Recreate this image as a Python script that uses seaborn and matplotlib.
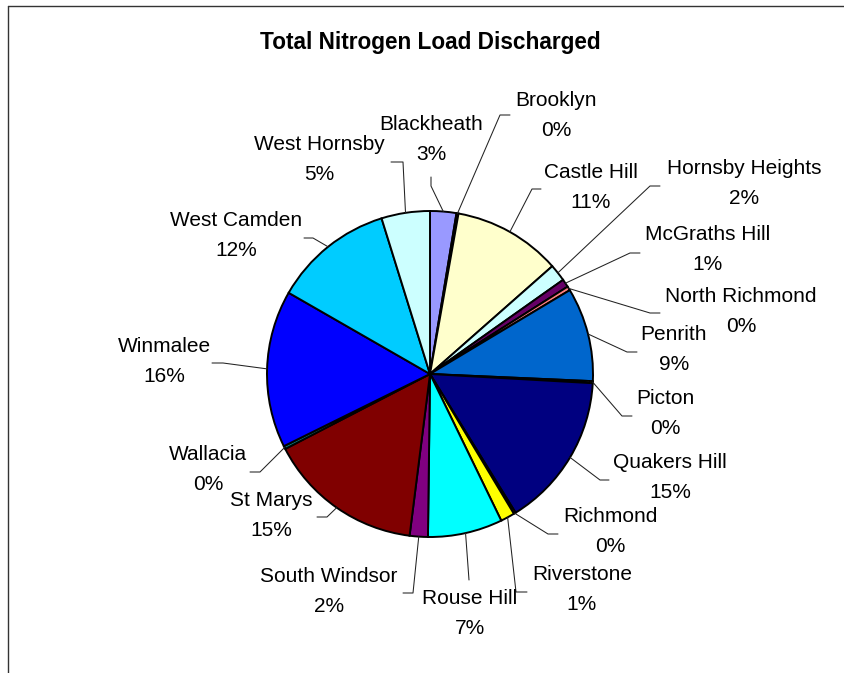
import numpy as np
import matplotlib
matplotlib.use('Agg')
import matplotlib.pyplot as plt
import seaborn as sns

# share of total nitrogen load (%)
sites = ['Blackheath', 'Brooklyn', 'Castle Hill', 'Hornsby Heights', 'McGraths Hill',
         'North Richmond', 'Penrith', 'Picton', 'Quakers Hill', 'Richmond',
         'Riverstone', 'Rouse Hill', 'South Windsor', 'St Marys', 'Wallacia',
         'Winmalee', 'West Camden', 'West Hornsby']
load_pct = [2.6, 0.2, 10.7, 1.7, 0.8, 0.4, 9.3, 0.2, 15.3, 0.2,
            1.4, 7.4, 1.8, 15.4, 0.3, 15.6, 11.9, 4.8]
colors = ['#9999FF', '#993366', '#FFFFCC', '#CCFFFF', '#660066', '#FF8080',
          '#0066CC', '#CCCCFF', '#000080', '#FF00FF', '#FFFF00', '#00FFFF',
          '#800080', '#800000', '#008080', '#0000FF', '#00CCFF', '#CCFFFF']

# layout (pixels): label centre, leader bend point, leader end point
label_xy = [(431, 140), (556, 115), (591, 188), (744, 184), (708, 250),
            (741, 312), (674, 350), (665, 413), (670, 477), (610, 532),
            (582, 590), (470, 613), (329, 592), (271, 515), (208, 470),
            (164, 362), (236, 236), (319, 160)]
bend_xy = [(431, 186), (500, 115), (532, 189), (650, 186), (630, 253),
           (650, 313), (627, 352), (622, 416), (600, 480), (548, 534),
           (516, 592), (469, 580), (413, 593), (327, 517), (260, 472),
           (223, 363), (313, 238), (403, 162)]
end_xy = [(431, 177), (510, 115), (541, 189), (660, 186), (640, 253),
          (660, 313), (637, 352), (632, 416), (609, 480), (558, 534),
          (527, 592), (469, 580), (403, 593), (317, 517), (250, 472),
          (212, 363), (304, 238), (391, 162)]

sns.set_theme(style='white')
plt.rcParams['font.family'] = ['Liberation Sans', 'DejaVu Sans']

W, H = 845, 673
cx, cy, r = 430, 374, 163

fig = plt.figure(figsize=(W / 100, H / 100), dpi=100)
ax = fig.add_axes([0, 0, 1, 1])

# y axis is flipped below, so counterclock + startangle -90 = clockwise from 12 o'clock
wedges, _ = ax.pie(load_pct, colors=colors, startangle=-90, counterclock=True,
                   center=(cx, cy), radius=r,
                   wedgeprops=dict(edgecolor='black', linewidth=1.4))

total = sum(load_pct)
for w, name, v, lxy, bxy, exy in zip(wedges, sites, load_pct, label_xy, bend_xy, end_xy):
    mid = np.deg2rad((w.theta1 + w.theta2) / 2)
    sx, sy = cx + r * np.cos(mid), cy + r * np.sin(mid)
    ax.plot([sx, bxy[0], exy[0]], [sy, bxy[1], exy[1]], color='#222222', lw=0.75)
    ax.text(lxy[0], lxy[1] - 15, name, ha='center', va='center', fontsize=15, color='black')
    ax.text(lxy[0], lxy[1] + 15, f'{round(v / total * 100)}%', ha='center', va='center',
            fontsize=15, color='black')

ax.text(430, 42, 'Total Nitrogen Load Discharged', ha='center', va='center',
        fontsize=16.3, fontweight='bold', color='black')

# chart area border (top and left visible)
ax.plot([8, 8], [6, H], color='#333333', lw=1)
ax.plot([8, W], [6, 6], color='#333333', lw=1)

ax.set_xlim(0, W)
ax.set_ylim(H, 0)
ax.set_aspect('equal')
ax.axis('off')

fig.savefig('out.png', dpi=100, facecolor='white')
